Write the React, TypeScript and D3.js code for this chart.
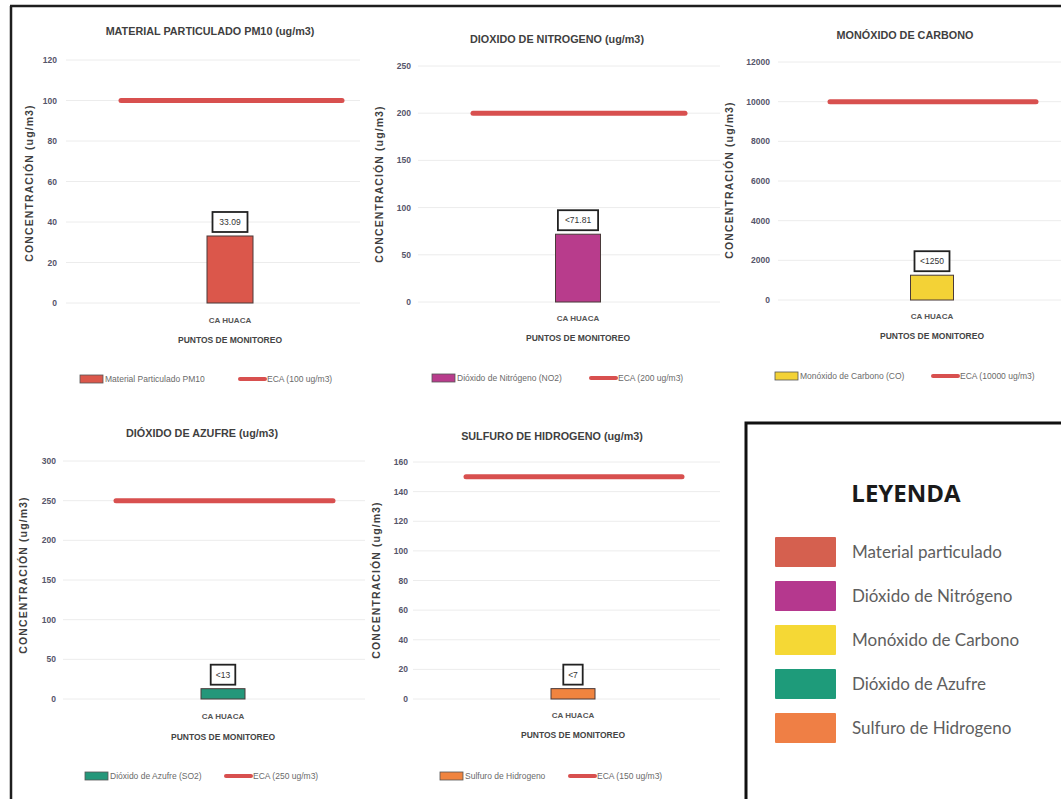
import React from "react";
import * as d3 from "d3";

// ---------- DATA ----------
const category = "CA HUACA";
const xAxisTitle = "PUNTOS DE MONITOREO";
const yAxisTitle = "CONCENTRACIÓN (ug/m3)";
const chartTitles = [
  "MATERIAL PARTICULADO PM10 (ug/m3)",
  "DIOXIDO DE NITROGENO (ug/m3)",
  "MONÓXIDO DE CARBONO",
  "DIÓXIDO DE AZUFRE (ug/m3)",
  "SULFURO DE HIDROGENO (ug/m3)",
];
const seriesNames = [
  "Material Particulado PM10",
  "Dióxido de Nitrógeno (NO2)",
  "Monóxido de Carbono (CO)",
  "Dióxido de Azufre (SO2)",
  "Sulfuro de Hidrogeno",
];
const measuredValues = [33.09, 71.81, 1250, 13, 7];
const measuredLabels = ["33.09", "<71.81", "<1250", "<13", "<7"];
const ecaValues = [100, 200, 10000, 250, 150];
const ecaLabels = ["ECA (100 ug/m3)", "ECA (200 ug/m3)", "ECA (10000 ug/m3)", "ECA (250 ug/m3)", "ECA (150 ug/m3)"];
const ticksPM10 = [0, 20, 40, 60, 80, 100, 120];
const ticksNO2 = [0, 50, 100, 150, 200, 250];
const ticksCO = [0, 2000, 4000, 6000, 8000, 10000, 12000];
const ticksSO2 = [0, 50, 100, 150, 200, 250, 300];
const ticksH2S = [0, 20, 40, 60, 80, 100, 120, 140, 160];
const tickSets = [ticksPM10, ticksNO2, ticksCO, ticksSO2, ticksH2S];
const legendTitle = "LEYENDA";
const legendNames = [
  "Material particulado",
  "Dióxido de Nitrógeno",
  "Monóxido de Carbono",
  "Dióxido de Azufre",
  "Sulfuro de Hidrogeno",
];

// ---------- STYLE / LAYOUT ----------
const barColors = ["#DB574B", "#B83C8C", "#F3D236", "#24977A", "#F0843F"];
const legendColors = ["#D5604F", "#B5388E", "#F5D835", "#1E9B7A", "#EF7F45"];
const ecaColor = "#D8504F";

const layouts = [
  { titleX: 210, titleY: 35, yTop: 60, y0: 303, tickR: 57, gridL: 66, gridR: 360, cx: 230, bw: 46, l0: 121, l1: 342, axX: 33, axY: 183, catY: 323, xtY: 343, legY: 379, sw: 80, ls: 240 },
  { titleX: 557, titleY: 43, yTop: 66, y0: 302, tickR: 411, gridL: 418, gridR: 720, cx: 578, bw: 45, l0: 473, l1: 685, axX: 383, axY: 184, catY: 321, xtY: 341, legY: 378, sw: 432, ls: 591 },
  { titleX: 905, titleY: 39, yTop: 62, y0: 300, tickR: 770, gridL: 778, gridR: 1061, cx: 932, bw: 43, l0: 830, l1: 1036, axX: 733, axY: 180, catY: 319, xtY: 339, legY: 376, sw: 775, ls: 933 },
  { titleX: 202, titleY: 437, yTop: 461, y0: 699, tickR: 56, gridL: 63, gridR: 365, cx: 223, bw: 44, l0: 116, l1: 333, axX: 27, axY: 575, catY: 719, xtY: 740, legY: 776, sw: 85, ls: 226 },
  { titleX: 552, titleY: 440, yTop: 462, y0: 699, tickR: 408, gridL: 413, gridR: 720, cx: 573, bw: 44, l0: 466, l1: 682, axX: 380, axY: 580, catY: 718, xtY: 738, legY: 776, sw: 440, ls: 570 },
];

const font = "'Liberation Sans', Arial, sans-serif";

function Panel({ i }: { i: number }) {
  const L = layouts[i];
  const ticks = tickSets[i];
  const y = d3.scaleLinear().domain([0, d3.max(ticks) as number]).range([L.y0, L.yTop]);
  const half = 100;
  const p = (2 * half - L.bw) / (2 * half + L.bw);
  const x = d3.scaleBand<string>().domain([category]).range([L.cx - half, L.cx + half]).paddingInner(p).paddingOuter(p);
  const bx = x(category) as number;
  const bwid = x.bandwidth();
  const v = measuredValues[i];
  const barTop = y(v);
  const ecaLine = d3.line<number>().x((d) => d).y(() => y(ecaValues[i]))([L.l0, L.l1]) as string;
  const lbl = measuredLabels[i];
  const lblW = lbl.length * 5.2 + 9;
  const lblH = 20;
  const lblBottom = barTop - 4;
  return (
    <g>
      <text x={L.titleX} y={L.titleY} textAnchor="middle" fontSize={10.8} fontWeight="bold" fill="#3f3f3f" fontFamily={font}>
        {chartTitles[i]}
      </text>
      {ticks.map((t) => (
        <g key={t}>
          <line x1={L.gridL} x2={L.gridR} y1={y(t)} y2={y(t)} stroke="#ececec" strokeWidth={1} />
          <text x={L.tickR} y={y(t) + 3} textAnchor="end" fontSize={8.5} fontWeight="bold" fill="#55556a" fontFamily={font}>
            {d3.format("d")(t)}
          </text>
        </g>
      ))}
      <text
        transform={`translate(${L.axX},${L.axY}) rotate(-90)`}
        textAnchor="middle"
        fontSize={10.5}
        fontWeight="bold"
        letterSpacing={1.1}
        fill="#404040"
        fontFamily={font}
      >
        {yAxisTitle}
      </text>
      <rect x={bx} y={barTop} width={bwid} height={L.y0 - barTop} fill={barColors[i]} stroke="#4a3a3a" strokeWidth={1} />
      <path d={ecaLine} stroke={ecaColor} strokeWidth={5} strokeLinecap="round" fill="none" />
      <rect x={L.cx - lblW / 2} y={lblBottom - lblH} width={lblW} height={lblH} fill="#fff" stroke="#222" strokeWidth={1.8} />
      <text x={L.cx} y={lblBottom - lblH / 2 + 3} textAnchor="middle" fontSize={8.5} fill="#333" fontFamily={font}>
        {lbl}
      </text>
      <text x={L.cx} y={L.catY} textAnchor="middle" fontSize={8} fontWeight="bold" fill="#555" fontFamily={font}>
        {category}
      </text>
      <text x={L.cx} y={L.xtY} textAnchor="middle" fontSize={8.5} fontWeight="bold" fill="#444" fontFamily={font}>
        {xAxisTitle}
      </text>
      <rect x={L.sw} y={L.legY - 4} width={23} height={8} fill={barColors[i]} stroke="#555" strokeWidth={0.8} />
      <text x={L.sw + 25} y={L.legY + 3} fontSize={8.5} fill="#6a6a6a" fontFamily={font}>
        {seriesNames[i]}
      </text>
      <line x1={L.ls} x2={L.ls + 25} y1={L.legY} y2={L.legY} stroke={ecaColor} strokeWidth={4} strokeLinecap="round" />
      <text x={L.ls + 27} y={L.legY + 3} fontSize={8.5} fill="#6a6a6a" fontFamily={font}>
        {ecaLabels[i]}
      </text>
    </g>
  );
}

export default function App() {
  const legendYs = d3.range(legendNames.length).map((k) => 537 + k * 44);
  return (
    <svg width={1061} height={799} style={{ position: "absolute", left: 0, top: 0, background: "#fff" }}>
      <rect x={0} y={0} width={1061} height={799} fill="#fff" />
      <line x1={10} x2={1061} y1={6} y2={6} stroke="#1e1e1e" strokeWidth={2.5} />
      <line x1={11} x2={11} y1={6} y2={799} stroke="#1e1e1e" strokeWidth={2.5} />
      {layouts.map((_, i) => (
        <Panel key={i} i={i} />
      ))}
      <rect x={746} y={423} width={330} height={400} fill="#fff" stroke="#111" strokeWidth={3} />
      <text x={906} y={502} textAnchor="middle" fontSize={24} fontWeight="bold" fill="#1a1a1a" fontFamily="'Open Sans', sans-serif">
        {legendTitle}
      </text>
      {legendNames.map((n, k) => (
        <g key={n}>
          <rect x={775} y={legendYs[k]} width={61} height={30} fill={legendColors[k]} rx={1} />
          <text x={852} y={legendYs[k] + 21} fontSize={17} fill="#5e5e5e" fontFamily="Lato, 'Open Sans', sans-serif">
            {n}
          </text>
        </g>
      ))}
    </svg>
  );
}
